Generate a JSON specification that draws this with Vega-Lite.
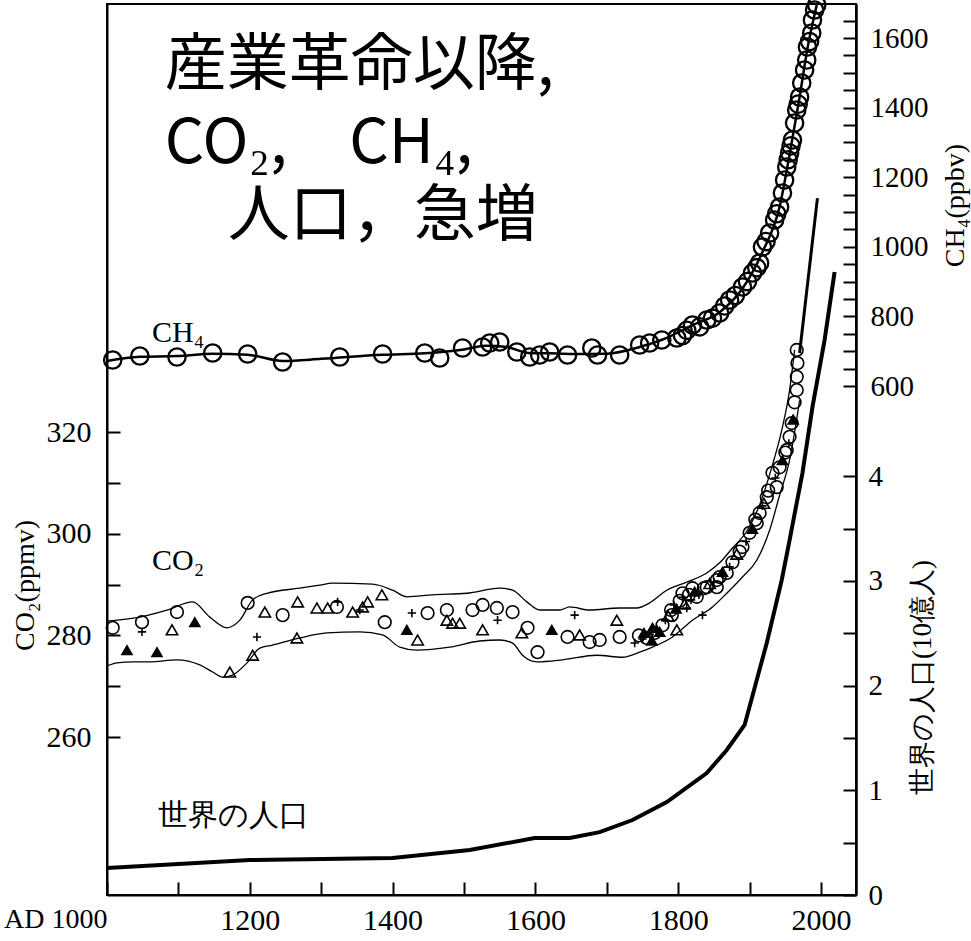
{
  "$schema": "https://vega.github.io/schema/vega-lite/v6.json",
  "width": 749,
  "height": 891,
  "autosize": {"type": "none"},
  "padding": {"left": 107, "top": 4, "right": 115, "bottom": 46},
  "background": "white",
  "config": {
    "view": {"stroke": "black", "strokeWidth": 2},
    "axis": {"domainColor": "black", "domainWidth": 2, "tickColor": "black", "tickWidth": 2, "labelColor": "black", "titleColor": "black", "grid": false, "titleFontWeight": "normal", "labelOverlap": false, "labelFlush": false, "labelFont": "Liberation Serif"}
  },
  "datasets": {
    "co2band": [
      {"year": 1000, "co2": 282.8, "edge": "upper"}, {"year": 1046, "co2": 283.6, "edge": "upper"}, {"year": 1084, "co2": 285.0, "edge": "upper"}, {"year": 1120, "co2": 286.6, "edge": "upper"}, {"year": 1144, "co2": 283.6, "edge": "upper"}, {"year": 1168, "co2": 281.5, "edge": "upper"}, {"year": 1186, "co2": 283.0, "edge": "upper"}, {"year": 1204, "co2": 287.0, "edge": "upper"}, {"year": 1224, "co2": 288.3, "edge": "upper"}, {"year": 1270, "co2": 289.3, "edge": "upper"}, {"year": 1298, "co2": 289.9, "edge": "upper"}, {"year": 1316, "co2": 290.3, "edge": "upper"}, {"year": 1372, "co2": 290.1, "edge": "upper"}, {"year": 1400, "co2": 288.9, "edge": "upper"}, {"year": 1420, "co2": 287.6, "edge": "upper"}, {"year": 1456, "co2": 288.0, "edge": "upper"}, {"year": 1504, "co2": 288.3, "edge": "upper"}, {"year": 1550, "co2": 289.3, "edge": "upper"}, {"year": 1568, "co2": 288.9, "edge": "upper"}, {"year": 1588, "co2": 286.6, "edge": "upper"}, {"year": 1606, "co2": 285.0, "edge": "upper"}, {"year": 1634, "co2": 285.0, "edge": "upper"}, {"year": 1648, "co2": 285.6, "edge": "upper"}, {"year": 1676, "co2": 285.0, "edge": "upper"}, {"year": 1718, "co2": 285.4, "edge": "upper"}, {"year": 1742, "co2": 285.4, "edge": "upper"}, {"year": 1760, "co2": 286.4, "edge": "upper"}, {"year": 1784, "co2": 288.9, "edge": "upper"}, {"year": 1812, "co2": 290.5, "edge": "upper"}, {"year": 1840, "co2": 292.3, "edge": "upper"}, {"year": 1858, "co2": 294.3, "edge": "upper"}, {"year": 1876, "co2": 297.2, "edge": "upper"}, {"year": 1896, "co2": 300.5, "edge": "upper"}, {"year": 1914, "co2": 305.7, "edge": "upper"}, {"year": 1930, "co2": 312.6, "edge": "upper"}, {"year": 1945, "co2": 320.4, "edge": "upper"}, {"year": 1956, "co2": 328.3, "edge": "upper"}, {"year": 1963, "co2": 336.2, "edge": "upper"},
      {"year": 1000, "co2": 274.0, "edge": "lower"}, {"year": 1014, "co2": 274.6, "edge": "lower"}, {"year": 1036, "co2": 274.8, "edge": "lower"}, {"year": 1060, "co2": 274.8, "edge": "lower"}, {"year": 1098, "co2": 275.2, "edge": "lower"}, {"year": 1130, "co2": 274.2, "edge": "lower"}, {"year": 1148, "co2": 272.8, "edge": "lower"}, {"year": 1162, "co2": 271.8, "edge": "lower"}, {"year": 1176, "co2": 272.2, "edge": "lower"}, {"year": 1196, "co2": 274.6, "edge": "lower"}, {"year": 1214, "co2": 277.5, "edge": "lower"}, {"year": 1232, "co2": 278.1, "edge": "lower"}, {"year": 1270, "co2": 279.5, "edge": "lower"}, {"year": 1308, "co2": 280.5, "edge": "lower"}, {"year": 1354, "co2": 280.7, "edge": "lower"}, {"year": 1386, "co2": 280.1, "edge": "lower"}, {"year": 1410, "co2": 277.7, "edge": "lower"}, {"year": 1434, "co2": 277.1, "edge": "lower"}, {"year": 1480, "co2": 277.7, "edge": "lower"}, {"year": 1522, "co2": 278.9, "edge": "lower"}, {"year": 1550, "co2": 279.1, "edge": "lower"}, {"year": 1568, "co2": 278.5, "edge": "lower"}, {"year": 1582, "co2": 276.1, "edge": "lower"}, {"year": 1602, "co2": 274.8, "edge": "lower"}, {"year": 1638, "co2": 275.2, "edge": "lower"}, {"year": 1686, "co2": 276.1, "edge": "lower"}, {"year": 1722, "co2": 275.7, "edge": "lower"}, {"year": 1746, "co2": 276.7, "edge": "lower"}, {"year": 1764, "co2": 277.7, "edge": "lower"}, {"year": 1792, "co2": 279.7, "edge": "lower"}, {"year": 1820, "co2": 283.0, "edge": "lower"}, {"year": 1848, "co2": 285.6, "edge": "lower"}, {"year": 1868, "co2": 288.3, "edge": "lower"}, {"year": 1890, "co2": 291.5, "edge": "lower"}, {"year": 1910, "co2": 294.8, "edge": "lower"}, {"year": 1928, "co2": 300.7, "edge": "lower"}, {"year": 1942, "co2": 307.6, "edge": "lower"}, {"year": 1956, "co2": 314.5, "edge": "lower"}, {"year": 1970, "co2": 326.3, "edge": "lower"}
    ],
    "co2pts": [
      {"year": 1008, "co2": 281.5, "m": "o"}, {"year": 1049, "co2": 282.6, "m": "o"}, {"year": 1098, "co2": 284.6, "m": "o"}, {"year": 1197, "co2": 286.4, "m": "o"}, {"year": 1246, "co2": 284.0, "m": "o"}, {"year": 1322, "co2": 285.6, "m": "o"}, {"year": 1389, "co2": 282.6, "m": "o"}, {"year": 1449, "co2": 284.4, "m": "o"}, {"year": 1476, "co2": 285.0, "m": "o"}, {"year": 1512, "co2": 285.0, "m": "o"}, {"year": 1526, "co2": 286.0, "m": "o"}, {"year": 1546, "co2": 285.4, "m": "o"}, {"year": 1568, "co2": 284.6, "m": "o"}, {"year": 1589, "co2": 281.5, "m": "o"}, {"year": 1603, "co2": 276.7, "m": "o"}, {"year": 1645, "co2": 279.7, "m": "o"}, {"year": 1676, "co2": 278.7, "m": "o"}, {"year": 1690, "co2": 279.1, "m": "o"}, {"year": 1718, "co2": 279.7, "m": "o"}, {"year": 1791, "co2": 284.0, "m": "o"}, {"year": 1826, "co2": 287.6, "m": "o"}, {"year": 1854, "co2": 289.5, "m": "o"}, {"year": 1876, "co2": 294.4, "m": "o"},
      {"year": 1966, "co2": 336.2, "m": "o"}, {"year": 1967, "co2": 333.6, "m": "o"}, {"year": 1966, "co2": 330.9, "m": "o"}, {"year": 1966, "co2": 328.3, "m": "o"}, {"year": 1963, "co2": 325.9, "m": "o"}, {"year": 1959, "co2": 321.8, "m": "o"}, {"year": 1956, "co2": 319.1, "m": "o"}, {"year": 1952, "co2": 316.5, "m": "o"}, {"year": 1942, "co2": 313.1, "m": "o"}, {"year": 1932, "co2": 312.0, "m": "o"}, {"year": 1938, "co2": 309.2, "m": "o"}, {"year": 1924, "co2": 307.2, "m": "o"}, {"year": 1914, "co2": 304.1, "m": "o"}, {"year": 1910, "co2": 302.1, "m": "o"}, {"year": 1900, "co2": 300.2, "m": "o"}, {"year": 1890, "co2": 297.4, "m": "o"}, {"year": 1868, "co2": 292.3, "m": "o"}, {"year": 1854, "co2": 290.9, "m": "o"}, {"year": 1840, "co2": 289.5, "m": "o"}, {"year": 1820, "co2": 289.3, "m": "o"}, {"year": 1806, "co2": 288.3, "m": "o"},
      {"year": 1028, "co2": 277.1, "m": "f"}, {"year": 1070, "co2": 276.7, "m": "f"}, {"year": 1091, "co2": 281.1, "m": "t"}, {"year": 1123, "co2": 282.6, "m": "f"}, {"year": 1172, "co2": 272.8, "m": "t"}, {"year": 1204, "co2": 276.1, "m": "t"}, {"year": 1221, "co2": 284.6, "m": "t"}, {"year": 1267, "co2": 286.6, "m": "t"}, {"year": 1294, "co2": 285.4, "m": "t"}, {"year": 1309, "co2": 285.4, "m": "t"}, {"year": 1344, "co2": 284.6, "m": "t"}, {"year": 1358, "co2": 285.6, "m": "t"}, {"year": 1365, "co2": 286.6, "m": "t"}, {"year": 1385, "co2": 288.0, "m": "t"}, {"year": 1420, "co2": 281.1, "m": "f"}, {"year": 1435, "co2": 279.1, "m": "t"}, {"year": 1476, "co2": 283.0, "m": "t"}, {"year": 1484, "co2": 282.4, "m": "t"}, {"year": 1494, "co2": 282.4, "m": "t"}, {"year": 1266, "co2": 279.5, "m": "t"}, {"year": 1526, "co2": 281.1, "m": "t"}, {"year": 1581, "co2": 280.5, "m": "t"}, {"year": 1623, "co2": 281.1, "m": "f"}, {"year": 1662, "co2": 280.1, "m": "t"}, {"year": 1714, "co2": 283.0, "m": "t"}, {"year": 1798, "co2": 281.1, "m": "t"}, {"year": 1764, "co2": 281.5, "m": "f"},
      {"year": 1049, "co2": 280.7, "m": "p"}, {"year": 1210, "co2": 279.7, "m": "p"}, {"year": 1323, "co2": 286.6, "m": "p"}, {"year": 1354, "co2": 285.0, "m": "p"}, {"year": 1427, "co2": 284.4, "m": "p"}, {"year": 1547, "co2": 283.0, "m": "p"}, {"year": 1655, "co2": 284.0, "m": "p"}, {"year": 1739, "co2": 278.5, "m": "p"}, {"year": 1834, "co2": 284.0, "m": "p"}, {"year": 1812, "co2": 285.4, "m": "p"},
      {"year": 1745, "co2": 280.0, "m": "o"}, {"year": 1750, "co2": 279.3, "m": "p"}, {"year": 1752, "co2": 280.5, "m": "f"}, {"year": 1756, "co2": 279.5, "m": "o"}, {"year": 1760, "co2": 280.2, "m": "p"}, {"year": 1763, "co2": 279.0, "m": "f"}, {"year": 1767, "co2": 280.5, "m": "o"}, {"year": 1770, "co2": 281.3, "m": "p"}, {"year": 1774, "co2": 280.7, "m": "f"}, {"year": 1778, "co2": 282.0, "m": "o"}, {"year": 1782, "co2": 283.0, "m": "p"}, {"year": 1786, "co2": 283.8, "m": "t"}, {"year": 1790, "co2": 285.0, "m": "o"}, {"year": 1794, "co2": 286.0, "m": "p"}, {"year": 1797, "co2": 285.3, "m": "f"}, {"year": 1802, "co2": 286.8, "m": "o"}, {"year": 1806, "co2": 287.5, "m": "p"}, {"year": 1809, "co2": 286.2, "m": "t"}, {"year": 1815, "co2": 288.0, "m": "o"}, {"year": 1818, "co2": 287.0, "m": "p"}, {"year": 1823, "co2": 288.6, "m": "f"}, {"year": 1829, "co2": 288.0, "m": "p"}, {"year": 1836, "co2": 289.3, "m": "o"}, {"year": 1844, "co2": 290.2, "m": "t"}, {"year": 1850, "co2": 290.5, "m": "p"}, {"year": 1858, "co2": 291.5, "m": "o"}, {"year": 1862, "co2": 292.5, "m": "f"}, {"year": 1872, "co2": 293.5, "m": "p"}, {"year": 1882, "co2": 296.0, "m": "t"}, {"year": 1886, "co2": 296.5, "m": "o"}, {"year": 1895, "co2": 298.5, "m": "p"}, {"year": 1904, "co2": 301.0, "m": "f"}, {"year": 1908, "co2": 302.8, "m": "o"}, {"year": 1918, "co2": 305.5, "m": "p"}, {"year": 1920, "co2": 306.0, "m": "t"}, {"year": 1926, "co2": 308.5, "m": "o"}, {"year": 1936, "co2": 311.0, "m": "p"}, {"year": 1946, "co2": 314.5, "m": "f"}, {"year": 1950, "co2": 316.0, "m": "o"}, {"year": 1955, "co2": 317.8, "m": "p"}, {"year": 1961, "co2": 322.5, "m": "f"}
    ],
    "co2line": [
      {"year": 1970, "co2": 335.6}, {"year": 1995, "co2": 366.1}
    ],
    "ch4fit": [
      {"year": 1000, "ch4": 672}, {"year": 1046, "ch4": 684}, {"year": 1098, "ch4": 686}, {"year": 1148, "ch4": 693}, {"year": 1197, "ch4": 690}, {"year": 1246, "ch4": 672}, {"year": 1300, "ch4": 678}, {"year": 1386, "ch4": 690}, {"year": 1445, "ch4": 694}, {"year": 1500, "ch4": 705}, {"year": 1530, "ch4": 716}, {"year": 1560, "ch4": 712}, {"year": 1590, "ch4": 695}, {"year": 1620, "ch4": 694}, {"year": 1650, "ch4": 692}, {"year": 1700, "ch4": 693}, {"year": 1746, "ch4": 712}, {"year": 1780, "ch4": 735}, {"year": 1820, "ch4": 775}, {"year": 1858, "ch4": 812}, {"year": 1890, "ch4": 880}, {"year": 1918, "ch4": 985}, {"year": 1942, "ch4": 1115}, {"year": 1956, "ch4": 1265}, {"year": 1970, "ch4": 1430}, {"year": 1981, "ch4": 1570}, {"year": 1994, "ch4": 1695}
    ],
    "ch4pts": [
      {"year": 1008, "ch4": 674.7}, {"year": 1046, "ch4": 686.2}, {"year": 1098, "ch4": 683.3}, {"year": 1148, "ch4": 694.8}, {"year": 1197, "ch4": 692.0}, {"year": 1246, "ch4": 669.0}, {"year": 1326, "ch4": 683.3}, {"year": 1386, "ch4": 692.0}, {"year": 1445, "ch4": 694.8}, {"year": 1466, "ch4": 680.5}, {"year": 1498, "ch4": 709.2}, {"year": 1526, "ch4": 712.1}, {"year": 1536, "ch4": 723.6}, {"year": 1550, "ch4": 726.4}, {"year": 1574, "ch4": 697.7}, {"year": 1592, "ch4": 683.3}, {"year": 1606, "ch4": 689.1}, {"year": 1620, "ch4": 697.7}, {"year": 1645, "ch4": 689.1}, {"year": 1679, "ch4": 709.2}, {"year": 1687, "ch4": 689.1}, {"year": 1718, "ch4": 689.1}, {"year": 1746, "ch4": 717.8}, {"year": 1760, "ch4": 723.6}, {"year": 1777, "ch4": 732.2}, {"year": 1798, "ch4": 737.9},
      {"year": 1806, "ch4": 745}, {"year": 1812, "ch4": 760}, {"year": 1820, "ch4": 775.3}, {"year": 1830, "ch4": 770}, {"year": 1840, "ch4": 789.7}, {"year": 1848, "ch4": 795}, {"year": 1858, "ch4": 809.8}, {"year": 1865, "ch4": 830}, {"year": 1872, "ch4": 847.1}, {"year": 1880, "ch4": 860}, {"year": 1890, "ch4": 884.5}, {"year": 1897, "ch4": 900}, {"year": 1904, "ch4": 924.7}, {"year": 1910, "ch4": 940}, {"year": 1914, "ch4": 953.4}, {"year": 1918, "ch4": 999.4}, {"year": 1923, "ch4": 1015}, {"year": 1928, "ch4": 1039.7}, {"year": 1935, "ch4": 1077.0}, {"year": 1938, "ch4": 1095}, {"year": 1942, "ch4": 1114.4}, {"year": 1946, "ch4": 1154.6}, {"year": 1949, "ch4": 1192.0}, {"year": 1952, "ch4": 1229.3}, {"year": 1954, "ch4": 1250}, {"year": 1956, "ch4": 1269.5}, {"year": 1958, "ch4": 1290}, {"year": 1960, "ch4": 1306.9}, {"year": 1963, "ch4": 1355.7}, {"year": 1966, "ch4": 1393.1}, {"year": 1968, "ch4": 1410}, {"year": 1970, "ch4": 1430.5}, {"year": 1973, "ch4": 1470.7}, {"year": 1977, "ch4": 1508.0}, {"year": 1980, "ch4": 1536.8}, {"year": 1981, "ch4": 1574.1}, {"year": 1984, "ch4": 1590}, {"year": 1987, "ch4": 1614.4}, {"year": 1988, "ch4": 1651.7}, {"year": 1991, "ch4": 1680.5}, {"year": 1994, "ch4": 1694.8}
    ],
    "pop": [
      {"year": 1000, "pop": 0.258}, {"year": 1200, "pop": 0.334}, {"year": 1400, "pop": 0.353}, {"year": 1508, "pop": 0.43}, {"year": 1599, "pop": 0.544}, {"year": 1648, "pop": 0.544}, {"year": 1690, "pop": 0.60}, {"year": 1736, "pop": 0.716}, {"year": 1784, "pop": 0.888}, {"year": 1840, "pop": 1.165}, {"year": 1868, "pop": 1.385}, {"year": 1893, "pop": 1.624}, {"year": 1910, "pop": 2.053}, {"year": 1924, "pop": 2.407}, {"year": 1945, "pop": 3.009}, {"year": 1956, "pop": 3.39}, {"year": 1974, "pop": 4.03}, {"year": 1988, "pop": 4.66}, {"year": 2005, "pop": 5.30}, {"year": 2019, "pop": 5.95}
    ],
    "co2labels": [{"year": 1063, "co2": 292.9, "label": "CO₂"}],
    "ch4labels": [{"year": 1063, "ch4": 726, "label": "CH₄"}],
    "bigtext": [
      {"year": 1081, "ch4": 1465, "label": "産業革命以降,"},
      {"year": 1081, "ch4": 1241, "label": "CO₂,　CH₄,"},
      {"year": 1169, "ch4": 1031, "label": "人口，急増"}
    ],
    "poplabels": [{"year": 1071, "pop": 0.669, "label": "世界の人口"}]
  },
  "encoding": {
    "x": {
      "field": "year", "type": "quantitative",
      "scale": {"domain": [1000, 2049], "nice": false, "zero": false},
      "axis": {
        "orient": "bottom", "title": null,
        "values": [1000, 1100, 1200, 1300, 1400, 1500, 1600, 1700, 1800, 1900, 2000],
        "tickSize": -13, "labelPadding": 23,
        "labelFontSize": {"condition": {"test": "datum.value == 1000", "value": 28}, "value": 30},
        "labelBaseline": "top", "labelColor": "#000000",
        "labelAlign": {"condition": {"test": "datum.value == 1000", "value": "right"}, "value": "center"},
        "labelExpr": "datum.value == 1000 ? 'AD 1000' : (datum.value % 200 == 0 ? '' + datum.value : '')"
      }
    }
  },
  "layer": [
    {
      "encoding": {
        "y": {
          "field": "co2", "type": "quantitative",
          "scale": {"domain": [228.9, 404.3], "nice": false, "zero": false},
          "axis": {
            "orient": "left", "title": "CO₂(ppmv)",
            "values": [260, 270, 280, 290, 300, 310, 320],
            "tickSize": -13, "labelPadding": 29, "labelFontSize": 30, "labelColor": "#000000",
            "labelExpr": "datum.value % 20 == 0 ? '' + datum.value : ''",
            "titleFont": "Liberation Serif", "titleFontSize": 28, "titleColor": "#000000",
            "titleX": -82, "titleY": 581, "titleAngle": -90, "titleAlign": "center", "titleBaseline": "middle"
          }
        }
      },
      "layer": [
        {"data": {"name": "co2band"}, "mark": {"type": "line", "color": "black", "strokeWidth": 1.3, "interpolate": "monotone"}, "encoding": {"detail": {"field": "edge", "type": "nominal"}}},
        {"data": {"name": "co2line"}, "mark": {"type": "line", "color": "black", "strokeWidth": 3}, "encoding": {}},
        {"data": {"name": "co2pts"}, "mark": {"type": "point", "filled": false, "color": "black", "strokeWidth": 1.6, "opacity": 1},
         "encoding": {
           "shape": {"field": "m", "type": "nominal", "scale": {"domain": ["o", "t", "f", "p"], "range": ["circle", "triangle-up", "triangle-up", "M-1,0L1,0M0,-1L0,1"]}, "legend": null},
           "size": {"field": "m", "type": "ordinal", "scale": {"domain": ["o", "t", "f", "p"], "range": [160, 70, 70, 110]}, "legend": null},
           "fill": {"condition": {"test": "datum.m === 'f'", "value": "black"}, "value": "transparent"}
         }},
        {"data": {"name": "co2labels"}, "mark": {"type": "text", "align": "left", "baseline": "alphabetic", "font": "Liberation Serif", "fontSize": 30, "color": "black"}, "encoding": {"text": {"field": "label"}}}
      ]
    },
    {
      "encoding": {
        "y": {
          "field": "ch4", "type": "quantitative",
          "scale": {"domain": [-862.6, 1697.7], "nice": false, "zero": false},
          "axis": {
            "orient": "right", "title": "CH₄(ppbv)",
            "values": [600, 650, 700, 750, 800, 850, 900, 950, 1000, 1050, 1100, 1150, 1200, 1250, 1300, 1350, 1400, 1450, 1500, 1550, 1600, 1650],
            "tickSize": -13, "labelPadding": 27, "labelFontSize": 29, "labelColor": "#000000",
            "labelExpr": "datum.value % 200 == 0 ? '' + datum.value : ''",
            "titleFont": "Liberation Serif", "titleFontSize": 28, "titleColor": "#000000",
            "titleX": 99, "titleY": 201, "titleAngle": -90, "titleAlign": "center", "titleBaseline": "middle"
          }
        }
      },
      "layer": [
        {"data": {"name": "ch4fit"}, "mark": {"type": "line", "color": "black", "strokeWidth": 2.5, "interpolate": "monotone"}, "encoding": {}},
        {"data": {"name": "ch4pts"}, "mark": {"type": "point", "filled": false, "color": "black", "strokeWidth": 2.3, "size": 300, "opacity": 1}, "encoding": {}},
        {"data": {"name": "ch4labels"}, "mark": {"type": "text", "align": "left", "baseline": "alphabetic", "font": "Liberation Serif", "fontSize": 30, "color": "black"}, "encoding": {"text": {"field": "label"}}},
        {"data": {"name": "bigtext"}, "mark": {"type": "text", "align": "left", "baseline": "alphabetic", "font": "Noto Sans CJK JP", "fontSize": 62, "color": "black"}, "encoding": {"text": {"field": "label"}}}
      ]
    },
    {
      "encoding": {
        "y": {
          "field": "pop", "type": "quantitative",
          "scale": {"domain": [0, 8.51], "nice": false, "zero": false},
          "axis": {
            "orient": "right", "title": "世界の人口(10億人)",
            "values": [0, 0.5, 1, 1.5, 2, 2.5, 3, 3.5, 4],
            "tickSize": -13, "labelPadding": 25, "labelFontSize": 29, "labelColor": "#000000",
            "labelExpr": "datum.value % 1 == 0 ? '' + datum.value : ''",
            "titleFont": "Liberation Serif", "titleFontSize": 27, "titleColor": "#000000",
            "titleX": 66, "titleY": 673, "titleAngle": -90, "titleAlign": "center", "titleBaseline": "middle"
          }
        }
      },
      "layer": [
        {"data": {"name": "pop"}, "mark": {"type": "line", "color": "black", "strokeWidth": 4}, "encoding": {}},
        {"data": {"name": "poplabels"}, "mark": {"type": "text", "align": "left", "baseline": "alphabetic", "font": "Liberation Serif", "fontSize": 30, "color": "black"}, "encoding": {"text": {"field": "label"}}}
      ]
    }
  ],
  "resolve": {"scale": {"y": "independent"}, "axis": {"y": "independent"}}
}
